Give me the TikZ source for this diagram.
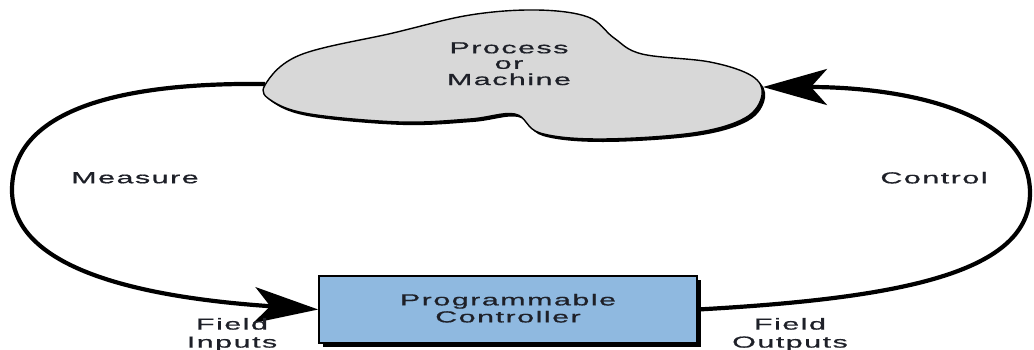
\documentclass[tikz,border=0pt]{standalone}
\usepackage{fontspec}
\usepackage{graphicx}
\setmainfont{Liberation Sans}
\newfontfamily\lblfont[LetterSpace=5,FakeBold=0.6]{Liberation Sans}
\usetikzlibrary{arrows.meta}
\definecolor{cloudgray}{HTML}{D8D8D8}
\definecolor{plcblue}{HTML}{8FB9E0}
\definecolor{inktext}{HTML}{1E2028}

% wide label text (one or more lines)
\newcommand{\widelabel}[2][16]{\scalebox{1.9}[1]{\lblfont\fontsize{16}{#1}\selectfont
  \begin{tabular}{@{}c@{}}#2\end{tabular}}}

\begin{document}
\begin{tikzpicture}[x=1pt,y=-1pt,
  lbl/.style={text=inktext, inner sep=0pt},
  loopline/.style={line width=4.2pt, -{Stealth[length=64pt,width=36pt,inset=16pt]}},
  plcbox/.style={draw=black, line width=1.6pt, fill=plcblue, minimum width=378pt, minimum height=67pt, inner sep=0pt},
  shadowfill/.style={fill=black}]

\useasboundingbox[fill=white] (0,0) rectangle (1034,349);

% cloud outline points
\def\cloudpts{(265,85) (300,55) (393,33) (470,15) (537,10) (588,17) (614,38) (642,54) (710,62) (752,76) (762,95) (745,118) (693,133) (600,139) (540,133) (515,114) (470,119) (400,122) (310,114) (272,101)}

% cloud with drop shadow
\begin{scope}[shift={(3,3)}]
  \fill[black] plot[smooth cycle, tension=0.6] coordinates {\cloudpts};
\end{scope}
\draw[line width=1.4pt, fill=cloudgray] plot[smooth cycle, tension=0.6] coordinates {\cloudpts};
\node[lbl] (proc) at (509,66) {\widelabel[15.5]{Process\\or\\Machine}};
\coordinate (cloudL) at (265,84);
\coordinate (cloudR) at (763,87);

% controller block with drop shadow
\fill[shadowfill] (323,280) rectangle (701,347);
\node[plcbox] (plc) at (508,309.5) {};
\node[lbl] (plctext) at ([yshift=-1pt]plc.center) {\widelabel[17]{Programmable\\Controller}};

% measure and control loops
\draw[loopline] (cloudL) .. controls (95,82) and (12,120) .. (12,190)
  .. controls (12,272) and (150,298) .. (plc.west);
\draw[loopline] (plc.east) .. controls (905,298) and (1030,272) .. (1030,193)
  .. controls (1030,112) and (905,87) .. (cloudR);

% labels
\node[lbl] (meas) at (135,180) {\widelabel{Measure}};
\node[lbl] (ctrl) at (934,180) {\widelabel{Control}};
\node[lbl] (fin) at (232,335) {\widelabel[18]{Field\\Inputs}};
\node[lbl] (fout) at (790,335) {\widelabel[18]{Field\\Outputs}};
\end{tikzpicture}
\end{document}
